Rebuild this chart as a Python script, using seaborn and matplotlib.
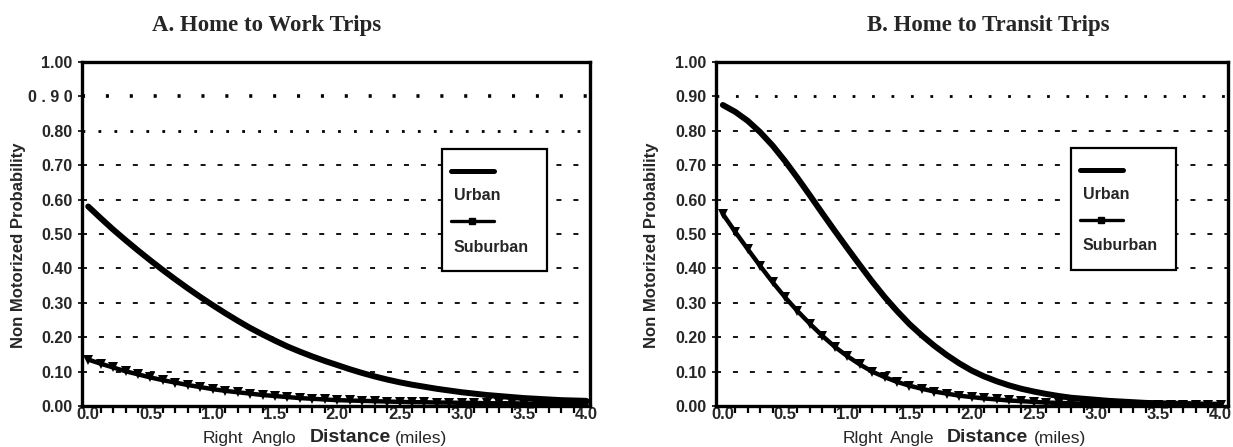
import matplotlib
matplotlib.use("Agg")
import matplotlib.pyplot as plt
import pandas as pd
import seaborn as sns
from matplotlib.lines import Line2D
from matplotlib.patches import Rectangle
from matplotlib.ticker import FixedLocator

# Right-angle walking distance (miles)
distance = [0.0, 0.1, 0.2, 0.3, 0.4, 0.5, 0.6, 0.7, 0.8, 0.9,
            1.0, 1.1, 1.2, 1.3, 1.4, 1.5, 1.6, 1.7, 1.8, 1.9,
            2.0, 2.1, 2.2, 2.3, 2.4, 2.5, 2.6, 2.7, 2.8, 2.9,
            3.0, 3.1, 3.2, 3.3, 3.4, 3.5, 3.6, 3.7, 3.8, 3.9, 4.0]

# A. Home to work trips
work_urban = [0.580, 0.546, 0.513, 0.482, 0.452, 0.423, 0.395, 0.368, 0.342, 0.317,
              0.293, 0.270, 0.248, 0.227, 0.208, 0.190, 0.173, 0.158, 0.144, 0.131,
              0.119, 0.107, 0.096, 0.086, 0.077, 0.069, 0.062, 0.056, 0.050, 0.045,
              0.040, 0.036, 0.032, 0.029, 0.026, 0.023, 0.021, 0.019, 0.017, 0.016, 0.015]
work_suburban = [0.135, 0.123, 0.112, 0.101, 0.092, 0.083, 0.075, 0.068, 0.061, 0.055,
                 0.049, 0.044, 0.040, 0.036, 0.032, 0.029, 0.026, 0.023, 0.021, 0.019,
                 0.017, 0.016, 0.015, 0.014, 0.013, 0.012, 0.011, 0.011, 0.010, 0.010,
                 0.009, 0.009, 0.008, 0.008, 0.008, 0.007, 0.007, 0.007, 0.006, 0.006, 0.006]

# B. Home to transit trips
transit_urban = [0.875, 0.855, 0.829, 0.796, 0.757, 0.712, 0.663, 0.612, 0.560, 0.509,
                 0.459, 0.410, 0.362, 0.317, 0.276, 0.238, 0.205, 0.175, 0.148, 0.124,
                 0.103, 0.086, 0.072, 0.060, 0.050, 0.042, 0.035, 0.029, 0.024, 0.021,
                 0.018, 0.015, 0.013, 0.011, 0.009, 0.008, 0.007, 0.006, 0.005, 0.004, 0.004]
transit_suburban = [0.558, 0.506, 0.456, 0.407, 0.360, 0.316, 0.276, 0.239, 0.204, 0.172,
                    0.145, 0.121, 0.100, 0.084, 0.070, 0.059, 0.050, 0.042, 0.036, 0.030,
                    0.026, 0.022, 0.019, 0.016, 0.014, 0.012, 0.010, 0.009, 0.008, 0.007,
                    0.006, 0.005, 0.005, 0.004, 0.004, 0.003, 0.003, 0.003, 0.002, 0.002, 0.002]

series_names = ["Urban", "Suburban"]
panel_titles = ["A. Home to Work Trips", "B. Home to Transit Trips"]

prob_ticks = [0.0, 0.1, 0.2, 0.3, 0.4, 0.5, 0.6, 0.7, 0.8, 0.9, 1.0]
work_prob_labels = ["0.00", "0.10", "0.20", "0.30", "0.40", "0.50",
                    "0.60", "0.70", "0.80", "0 . 9 0", "1.00"]
transit_prob_labels = ["0.00", "0.10", "0.20", "0.30", "0.40", "0.50",
                       "0.60", "0.70", "0.80", "0.90", "1.00"]
dist_ticks = [0.0, 0.5, 1.0, 1.5, 2.0, 2.5, 3.0, 3.5, 4.0]
dist_labels = ["0.0", "0.5", "1.0", "1.5", "2.0", "2.5", "3.0", "3.5", "4.0"]

sns.set_style("white")
plt.rcParams["font.family"] = ["Liberation Sans", "DejaVu Sans"]
plt.rcParams["lines.scale_dashes"] = False

W, H = 1233, 447
fig = plt.figure(figsize=(W / 100, H / 100), dpi=100)


def fx(px):
    return px / W


def fy(py):
    return 1 - py / H


def add_panel(left, right, top=62, bottom=406):
    return fig.add_axes([fx(left), fy(bottom), (right - left) / W, (bottom - top) / H])


def draw_panel(ax, urban, suburban, ylabels, grid_styles, xlim):
    n = len(distance)
    data = pd.DataFrame({
        "distance": distance + distance,
        "probability": urban + suburban,
        "area": [series_names[0]] * n + [series_names[1]] * n,
    })
    for level, (lw, dash) in grid_styles.items():
        ax.axhline(level, color="black", lw=lw, dashes=dash, zorder=1)
    sns.lineplot(data=data[data["area"] == series_names[0]], x="distance", y="probability",
                 color="black", lw=4.3, ax=ax, estimator=None, sort=False, zorder=3)
    sns.lineplot(data=data[data["area"] == series_names[1]], x="distance", y="probability",
                 color="black", lw=3.2, marker="v", markersize=6.5, markeredgewidth=0,
                 ax=ax, estimator=None, sort=False, zorder=3)
    ax.set_xlim(*xlim)
    ax.set_ylim(0, 1.0)
    ax.set_yticks(prob_ticks)
    ax.set_yticklabels(ylabels, fontweight="bold", fontsize=11.5)
    ax.set_xticks(dist_ticks)
    ax.set_xticklabels(dist_labels, fontweight="bold", fontsize=12)
    ax.xaxis.set_minor_locator(FixedLocator(distance))
    ax.tick_params(axis="x", which="major", bottom=True, length=0, pad=1)
    ax.tick_params(axis="x", which="minor", bottom=True, length=5, width=1.6,
                   direction="out", color="black")
    ax.tick_params(axis="y", which="major", left=True, length=3, width=1.2,
                   direction="out", pad=4, color="black")
    ax.set_xlabel("")
    ax.set_ylabel("")
    for s in ax.spines.values():
        s.set_visible(True)
        s.set_color("black")
        s.set_linewidth(2.4)


def draw_key(x0, y0, w=105, h=122):
    fig.add_artist(Rectangle((fx(x0), fy(y0 + h)), w / W, h / H, transform=fig.transFigure,
                             facecolor="white", edgecolor="black", lw=1.6, zorder=5))
    fig.add_artist(Line2D([fx(x0 + 9), fx(x0 + 52)], [fy(y0 + 22)] * 2,
                          transform=fig.transFigure, color="black", lw=3.6, zorder=6))
    fig.text(fx(x0 + 12), fy(y0 + 47), series_names[0], fontsize=11.5, fontweight="bold",
             ha="left", va="center", zorder=6)
    fig.add_artist(Line2D([fx(x0 + 9), fx(x0 + 30), fx(x0 + 52)], [fy(y0 + 72)] * 3,
                          transform=fig.transFigure, color="black", lw=2.4, marker="s",
                          markevery=[1], markersize=4, zorder=6))
    fig.text(fx(x0 + 12), fy(y0 + 98), series_names[1], fontsize=11.5, fontweight="bold",
             ha="left", va="center", zorder=6)


narrow = ["Liberation Sans Narrow", "Liberation Sans"]
regular = ["Liberation Sans", "DejaVu Sans"]


def draw_axis_text(title, title_x, ylabel_x, words):
    fig.text(fx(title_x), fy(25), title,
             family=["Liberation Serif", "DejaVu Serif"], fontweight="bold", fontsize=16.5,
             ha="center", va="center")
    fig.text(fx(ylabel_x), fy(245), "Non Motorized Probability", rotation=90,
             fontsize=12, fontweight="bold", ha="center", va="center")
    for (text, x, weight, size, fam) in words:
        fig.text(fx(x), fy(438), text, fontsize=size, fontweight=weight,
                 family=fam, ha="left", va="center")


dashed = (1.3, (3.6, 8.6))
ax_a = add_panel(82, 590)
draw_panel(ax_a, work_urban, work_suburban, work_prob_labels,
           {0.1: dashed, 0.2: dashed, 0.3: dashed, 0.4: dashed, 0.5: dashed,
            0.6: dashed, 0.7: dashed, 0.8: (2.0, (2.0, 9.5)), 0.9: (2.6, (2.2, 15))},
           (-0.05, 4.03))
ax_b = add_panel(716, 1228)
draw_panel(ax_b, transit_urban, transit_suburban, transit_prob_labels,
           {0.1: dashed, 0.2: dashed, 0.3: dashed, 0.4: dashed, 0.5: dashed,
            0.6: dashed, 0.7: dashed, 0.8: dashed, 0.9: (2.0, (2.0, 12))},
           (-0.055, 4.06))

draw_key(442, 149)
draw_key(1071, 148)

draw_axis_text(panel_titles[0], 267, 19,
               [("Right", 203, "normal", 12.5, narrow),
                ("Anglo", 252, "normal", 12.5, narrow),
                ("Distance", 310, "bold", 14, regular),
                ("(miles)", 395, "normal", 12.5, narrow)])
draw_axis_text(panel_titles[1], 988, 652,
               [("Rlght", 843, "normal", 12.5, narrow),
                ("Angle", 890, "normal", 12.5, narrow),
                ("Distance", 947, "bold", 14, regular),
                ("(miles)", 1034, "normal", 12.5, narrow)])

fig.savefig("out.png", dpi=100, facecolor="white")
